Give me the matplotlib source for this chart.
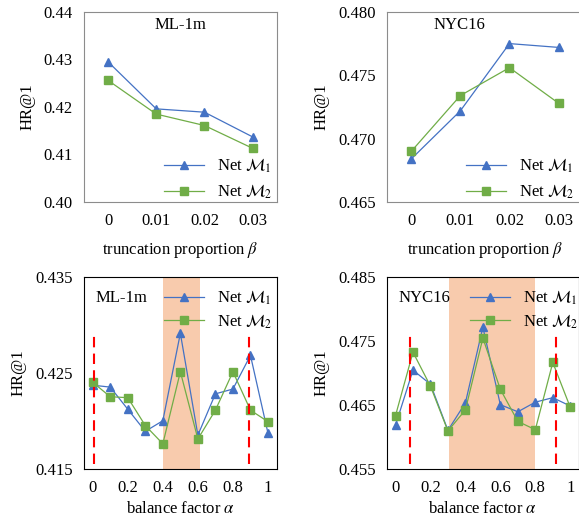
import matplotlib.pyplot as plt

plt.rcParams["font.family"] = ["Liberation Serif", "DejaVu Serif"]
plt.rcParams["mathtext.fontset"] = "stix"
plt.rcParams["font.size"] = 12

blue = "#4472C4"
green = "#70AD47"
shade = "#F8CBAD"

# truncation proportion beta
beta_labels = ["0", "0.01", "0.02", "0.03"]
ml_beta_m1 = [0.4295, 0.4196, 0.4189, 0.4137]
ml_beta_m2 = [0.4256, 0.4185, 0.4161, 0.4113]
nyc_beta_m1 = [0.4684, 0.4722, 0.4775, 0.4772]
nyc_beta_m2 = [0.4690, 0.4734, 0.4756, 0.4728]

# balance factor alpha
alpha_labels = ["0", "", "0.2", "", "0.4", "", "0.6", "", "0.8", "", "1"]
ml_alpha_m1 = [0.4237, 0.4235, 0.4212, 0.4189, 0.4200, 0.4291, 0.4185,
               0.4228, 0.4233, 0.4268, 0.4187]
ml_alpha_m2 = [0.4240, 0.4225, 0.4224, 0.4195, 0.4176, 0.4251, 0.4181,
               0.4211, 0.4251, 0.4211, 0.4199]
nyc_alpha_m1 = [0.4618, 0.4704, 0.4682, 0.4610, 0.4653, 0.4771, 0.4650,
                0.4639, 0.4654, 0.4661, 0.4648]
nyc_alpha_m2 = [0.4633, 0.4732, 0.4679, 0.4609, 0.4642, 0.4754, 0.4674,
                0.4624, 0.4611, 0.4716, 0.4646]

fig = plt.figure(figsize=(5.79, 5.18), dpi=100)

ax1 = fig.add_axes([0.145, 0.610, 0.333, 0.367])
ax2 = fig.add_axes([0.668, 0.610, 0.339, 0.367])
ax3 = fig.add_axes([0.145, 0.095, 0.333, 0.371])
ax4 = fig.add_axes([0.668, 0.095, 0.332, 0.371])


def draw(ax, labels, m1, m2):
    x = list(range(len(m1)))
    ax.plot(x, m1, color=blue, marker="^", markersize=6, linewidth=0.9,
            label=r"Net $\mathcal{M}_1$")
    ax.plot(x, m2, color=green, marker="s", markersize=6, linewidth=0.9,
            label=r"Net $\mathcal{M}_2$")
    ax.set_xticks(x)
    ax.set_xticklabels(labels)
    ax.set_xlim(-0.5, len(m1) - 0.5)
    ax.tick_params(length=0, pad=8)
    ax.set_ylabel("HR@1", labelpad=6)


draw(ax1, beta_labels, ml_beta_m1, ml_beta_m2)
ax1.set_ylim(0.40, 0.44)
ax1.set_yticks([0.40, 0.41, 0.42, 0.43, 0.44])
ax1.set_yticklabels(["0.40", "0.41", "0.42", "0.43", "0.44"])
ax1.set_xlabel(r"truncation proportion $\beta$", labelpad=8)
ax1.text(0.5, 0.93, "ML-1m", transform=ax1.transAxes, ha="center", va="center")
ax1.legend(loc="lower right", bbox_to_anchor=(1.02, -0.04), frameon=False,
           handlelength=2.4, labelspacing=0.45, borderaxespad=0.1)

draw(ax2, beta_labels, nyc_beta_m1, nyc_beta_m2)
ax2.set_ylim(0.465, 0.480)
ax2.set_yticks([0.465, 0.470, 0.475, 0.480])
ax2.set_yticklabels(["0.465", "0.470", "0.475", "0.480"])
ax2.set_xlabel(r"truncation proportion $\beta$", labelpad=8)
ax2.text(0.37, 0.93, "NYC16", transform=ax2.transAxes, ha="center", va="center")
ax2.legend(loc="lower right", bbox_to_anchor=(1.0, -0.04), frameon=False,
           handlelength=2.4, labelspacing=0.45, borderaxespad=0.1)

for ax in [ax1, ax2]:
    for s in ax.spines.values():
        s.set_color("#8c8c8c")

draw(ax3, alpha_labels, ml_alpha_m1, ml_alpha_m2)
ax3.axvspan(4.0, 6.1, color=shade, zorder=0, linewidth=0)
ax3.vlines([0.1, 8.9], 0.4155, 0.4292, colors="red", linestyles=(0, (5, 3)),
           linewidth=1.5)
ax3.set_ylim(0.415, 0.435)
ax3.set_yticks([0.415, 0.425, 0.435])
ax3.set_yticklabels(["0.415", "0.425", "0.435"])
ax3.set_xlabel(r"balance factor $\alpha$", labelpad=4)
ax3.text(0.06, 0.89, "ML-1m", transform=ax3.transAxes, ha="left", va="center")
ax3.legend(loc="upper right", bbox_to_anchor=(1.02, 0.98), frameon=False,
           handlelength=2.4, borderaxespad=0.1, labelspacing=0.3)

draw(ax4, alpha_labels, nyc_alpha_m1, nyc_alpha_m2)
ax4.axvspan(3.05, 8.0, color=shade, zorder=0, linewidth=0)
ax4.vlines([0.85, 9.2], 0.4557, 0.4763, colors="red", linestyles=(0, (5, 3)),
           linewidth=1.5)
ax4.set_ylim(0.455, 0.485)
ax4.set_yticks([0.455, 0.465, 0.475, 0.485])
ax4.set_yticklabels(["0.455", "0.465", "0.475", "0.485"])
ax4.set_xlabel(r"balance factor $\alpha$", labelpad=4)
ax4.text(0.06, 0.89, "NYC16", transform=ax4.transAxes, ha="left", va="center")
ax4.legend(loc="upper right", bbox_to_anchor=(1.04, 0.98), frameon=False,
           handlelength=2.4, borderaxespad=0.1, labelspacing=0.3)

plt.savefig("out.png", dpi=100)
